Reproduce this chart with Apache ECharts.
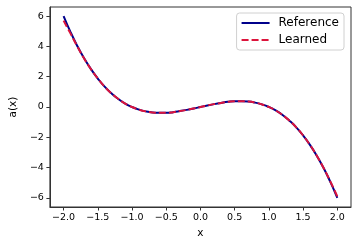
<!DOCTYPE html>
<html>
<head>
<meta charset="utf-8">
<script src="https://cdn.jsdelivr.net/npm/echarts@6/dist/echarts.min.js"></script>
<style>html,body{margin:0;padding:0;background:#fff}#c{width:358px;height:245px}</style>
</head>
<body>
<div id="c"></div>
<script>
var xValues = [-2.0,-1.9,-1.8,-1.7,-1.6,-1.5,-1.4,-1.3,-1.2,-1.1,-1.0,-0.9,-0.8,-0.7,-0.6,-0.5,-0.4,-0.3,-0.2,-0.1,0.0,0.1,0.2,0.3,0.4,0.5,0.6,0.7,0.8,0.9,1.0,1.1,1.2,1.3,1.4,1.5,1.6,1.7,1.8,1.9,2.0];
var referenceValues = [6.0,4.96,4.03,3.21,2.5,1.88,1.34,0.9,0.53,0.23,0.0,-0.17,-0.29,-0.36,-0.38,-0.38,-0.34,-0.27,-0.19,-0.1,0.0,0.1,0.19,0.27,0.34,0.38,0.38,0.36,0.29,0.17,0.0,-0.23,-0.53,-0.9,-1.34,-1.88,-2.5,-3.21,-4.03,-4.96,-6.0];
var learnedValues = [5.7,4.86,4.0,3.2,2.5,1.88,1.34,0.9,0.53,0.23,0.0,-0.17,-0.29,-0.36,-0.38,-0.38,-0.34,-0.27,-0.19,-0.1,0.0,0.1,0.19,0.27,0.34,0.38,0.38,0.36,0.29,0.17,0.0,-0.23,-0.53,-0.9,-1.34,-1.88,-2.5,-3.21,-4.03,-4.93,-5.9];
var xTicks = [-2.0,-1.5,-1.0,-0.5,0.0,0.5,1.0,1.5,2.0];
var yTicks = [-6,-4,-2,0,2,4,6];
var seriesNames = ['Reference','Learned'];

function pair(xs, ys){ return xs.map(function(x,i){ return [x, ys[i]]; }); }
function fmt(v, d){ return (v < 0 ? '\u2212' : '') + Math.abs(v).toFixed(d); }

var font = 'DejaVu Sans';
var chart = echarts.init(document.getElementById('c'), null, {renderer:'canvas'});
chart.setOption({
  animation: false,
  backgroundColor: '#fff',
  grid: {left: 43, right: 7, top: 7, bottom: 38, show: true, borderColor: '#333', borderWidth: 1, backgroundColor: 'transparent'},
  legend: {
    orient: 'vertical', right: 14, top: 13,
    padding: [4, 5, 4, 4],
    itemWidth: 28, itemHeight: 14, itemGap: 5,
    borderColor: '#d0d0d0', borderWidth: 1, borderRadius: 3,
    backgroundColor: 'rgba(255,255,255,0.8)',
    itemStyle: {opacity: 0},
    textStyle: {fontFamily: font, fontSize: 12, color: '#000', padding: [0,0,0,4]},
    data: seriesNames
  },
  xAxis: {
    type: 'value', min: -2.2, max: 2.2,
    name: 'x', nameLocation: 'middle', nameGap: 16,
    nameTextStyle: {fontFamily: font, fontSize: 10.5, color: '#000'},
    axisLine: {show: true, onZero: false, lineStyle: {color: '#333', width: 1}},
    axisTick: {show: true, inside: false, length: 3.5, lineStyle: {color: '#333'}, customValues: xTicks},
    axisLabel: {fontFamily: font, fontSize: 9.5, color: '#000', margin: 6, customValues: xTicks, formatter: function(v){ return fmt(v,1); }},
    splitLine: {show: false}
  },
  yAxis: {
    type: 'value', min: -6.6, max: 6.6,
    name: 'a(x)', nameLocation: 'middle', nameGap: 28, nameRotate: 90,
    nameTextStyle: {fontFamily: font, fontSize: 10.5, color: '#000'},
    axisLine: {show: true, onZero: false, lineStyle: {color: '#333', width: 1}},
    axisTick: {show: true, inside: false, length: 3.5, lineStyle: {color: '#333'}, customValues: yTicks},
    axisLabel: {fontFamily: font, fontSize: 9.5, color: '#000', margin: 6, customValues: yTicks, formatter: function(v){ return fmt(v,0); }},
    splitLine: {show: false}
  },
  series: [
    {name: seriesNames[0], type: 'line', data: pair(xValues, referenceValues), showSymbol: false, symbol: 'none', smooth: true,
     lineStyle: {color: '#00008b', width: 2}, itemStyle: {color: '#00008b'}, z: 2},
    {name: seriesNames[1], type: 'line', data: pair(xValues, learnedValues), showSymbol: false, symbol: 'none', smooth: true,
     lineStyle: {color: '#dc143c', width: 2, type: [7,3]}, itemStyle: {color: '#dc143c'}, z: 3}
  ]
});
</script>
</body>
</html>
